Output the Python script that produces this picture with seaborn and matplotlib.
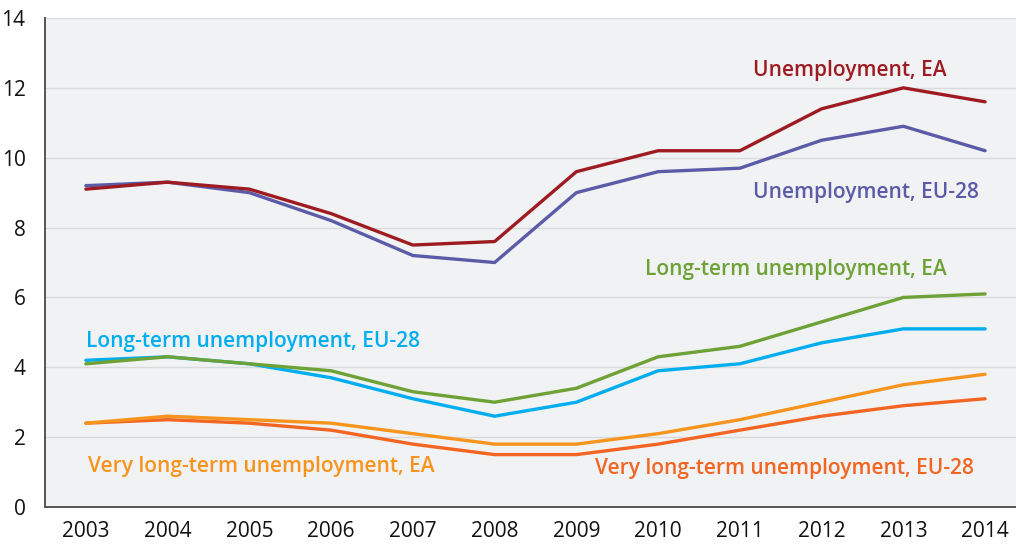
import numpy as np
import pandas as pd
import matplotlib
matplotlib.use("Agg")
import matplotlib.pyplot as plt
import seaborn as sns

years = [2003, 2004, 2005, 2006, 2007, 2008, 2009, 2010, 2011, 2012, 2013, 2014]
unemp_ea = [9.1, 9.3, 9.1, 8.4, 7.5, 7.6, 9.6, 10.2, 10.2, 11.4, 12.0, 11.6]
unemp_eu = [9.2, 9.3, 9.0, 8.2, 7.2, 7.0, 9.0, 9.6, 9.7, 10.5, 10.9, 10.2]
lt_ea = [4.1, 4.3, 4.1, 3.9, 3.3, 3.0, 3.4, 4.3, 4.6, 5.3, 6.0, 6.1]
lt_eu = [4.2, 4.3, 4.1, 3.7, 3.1, 2.6, 3.0, 3.9, 4.1, 4.7, 5.1, 5.1]
vlt_ea = [2.4, 2.6, 2.5, 2.4, 2.1, 1.8, 1.8, 2.1, 2.5, 3.0, 3.5, 3.8]
vlt_eu = [2.4, 2.5, 2.4, 2.2, 1.8, 1.5, 1.5, 1.8, 2.2, 2.6, 2.9, 3.1]

series_names = ["Unemployment, EA", "Unemployment, EU-28",
                "Long-term unemployment, EA", "Long-term unemployment, EU-28",
                "Very long-term unemployment, EA", "Very long-term unemployment, EU-28"]
series_values = [unemp_ea, unemp_eu, lt_ea, lt_eu, vlt_ea, vlt_eu]
colors = ["#9E1B22", "#5B5BA8", "#6EA236", "#00AEEF", "#F7941D", "#F26522"]

rows = []
for name, vals in zip(series_names, series_values):
    for i, (y, v) in enumerate(zip(years, vals)):
        rows.append({"x": i, "year": y, "value": v, "series": name})
df = pd.DataFrame(rows)

sns.set_theme(style="white")
plt.rcParams['font.family'] = ['Open Sans', 'DejaVu Sans']

fig = plt.figure(figsize=(10.16, 5.44), dpi=100)
ax = fig.add_axes([45/1016, 37/544, 1.0 - 45/1016, (507-18)/544])
ax.set_facecolor("#F1F2F4")

sns.lineplot(data=df, x="x", y="value", hue="series", palette=dict(zip(series_names, colors)),
             hue_order=series_names[::-1], linewidth=2.4, ax=ax, legend=False)

ax.set_ylim(0, 14)
ax.set_xlim(-0.5, 11.5 - 10/81.8)
ax.set_yticks(np.arange(0, 15, 2))
ax.set_yticklabels([str(v) for v in range(0, 15, 2)], fontsize=15)
ax.set_xticks(range(len(years)))
ax.set_xticklabels([str(y) for y in years], fontsize=15)
ax.set_xticks(np.arange(0.5, 11.5, 1), minor=True)
ax.tick_params(axis='x', which='major', length=0, pad=10, colors='#111111')
ax.tick_params(axis='x', which='minor', length=6, width=1.2, color='#555555', direction='out')
ax.tick_params(axis='y', length=6, width=1.0, color='#888888', pad=8, labelcolor='#111111')
ax.grid(axis='y', color='#D9DADC', linewidth=1.0)
ax.set_axisbelow(True)
for s in ["top", "right"]:
    ax.spines[s].set_visible(False)
for s in ["left", "bottom"]:
    ax.spines[s].set_color("#555555")
    ax.spines[s].set_linewidth(1.4)
ax.set_xlabel("")
ax.set_ylabel("")

labels = [
    ("Unemployment, EA", 9.34, 12.5, colors[0]),
    ("Unemployment, EU-28", 9.54, 9.0, colors[1]),
    ("Long-term unemployment, EA", 8.68, 6.8, colors[2]),
    ("Long-term unemployment, EU-28", 2.05, 4.75, colors[3]),
    ("Very long-term unemployment, EA", 2.14, 1.17, colors[4]),
    ("Very long-term unemployment, EU-28", 8.55, 1.09, colors[5]),
]
for text, x, y, c in labels:
    ax.text(x, y, text, color=c, fontsize=15, fontweight='semibold', ha='center', va='center')

fig.savefig("out.png", dpi=100)
